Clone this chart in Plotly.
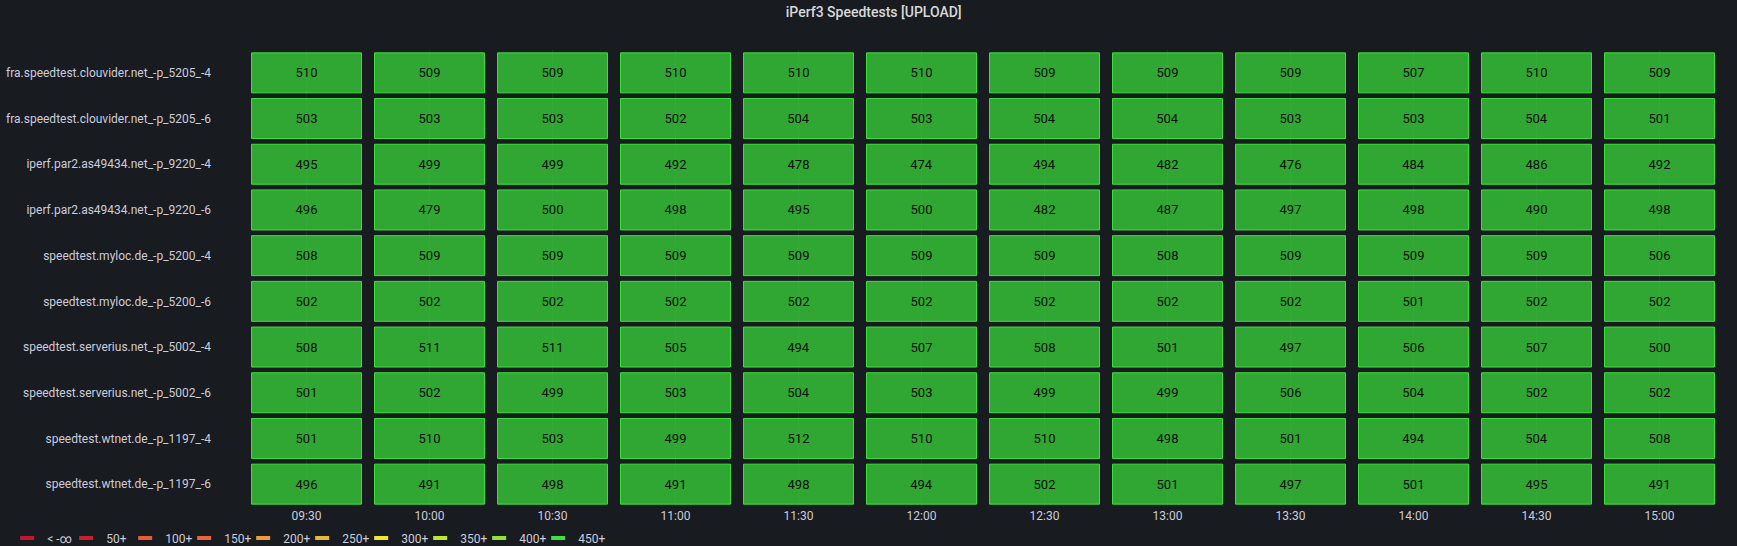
import plotly.graph_objects as go
import pandas as pd

# ---------------- data ----------------
times = ["09:30", "10:00", "10:30", "11:00", "11:30", "12:00",
         "12:30", "13:00", "13:30", "14:00", "14:30", "15:00"]

hosts = [
    "fra.speedtest.clouvider.net_-p_5205_-4",
    "fra.speedtest.clouvider.net_-p_5205_-6",
    "iperf.par2.as49434.net_-p_9220_-4",
    "iperf.par2.as49434.net_-p_9220_-6",
    "speedtest.myloc.de_-p_5200_-4",
    "speedtest.myloc.de_-p_5200_-6",
    "speedtest.serverius.net_-p_5002_-4",
    "speedtest.serverius.net_-p_5002_-6",
    "speedtest.wtnet.de_-p_1197_-4",
    "speedtest.wtnet.de_-p_1197_-6",
]

clouvider_4 = [510, 509, 509, 510, 510, 510, 509, 509, 509, 507, 510, 509]
clouvider_6 = [503, 503, 503, 502, 504, 503, 504, 504, 503, 503, 504, 501]
par2_4 = [495, 499, 499, 492, 478, 474, 494, 482, 476, 484, 486, 492]
par2_6 = [496, 479, 500, 498, 495, 500, 482, 487, 497, 498, 490, 498]
myloc_4 = [508, 509, 509, 509, 509, 509, 509, 508, 509, 509, 509, 506]
myloc_6 = [502, 502, 502, 502, 502, 502, 502, 502, 502, 501, 502, 502]
serverius_4 = [508, 511, 511, 505, 494, 507, 508, 501, 497, 506, 507, 500]
serverius_6 = [501, 502, 499, 503, 504, 503, 499, 499, 506, 504, 502, 502]
wtnet_4 = [501, 510, 503, 499, 512, 510, 510, 498, 501, 494, 504, 508]
wtnet_6 = [496, 491, 498, 491, 498, 494, 502, 501, 497, 501, 495, 491]

series = [clouvider_4, clouvider_6, par2_4, par2_6, myloc_4, myloc_6,
          serverius_4, serverius_6, wtnet_4, wtnet_6]

threshold_values = [float("-inf"), 50, 100, 150, 200, 250, 300, 350, 400, 450]
threshold_labels = ["< -∞", "50+", "100+", "150+", "200+", "250+",
                    "300+", "350+", "400+", "450+"]
threshold_colors = ["#C4162A", "#C81E30", "#EE5A36", "#F0633A", "#F2993A",
                    "#EAB839", "#F2E52C", "#BEE832", "#8EE632", "#3BE33B"]

# ---------------- style ----------------
BG = "#181b1f"
TEXT = "#ccccdc"
FONT = "Roboto, Inter, sans-serif"
SLOT_MS = 30 * 60 * 1000
CELL_FRACTION = 0.894
FILL_ALPHA = 0.7


def hex_to_rgba(h, a):
    h = h.lstrip("#")
    r, g, b = int(h[0:2], 16), int(h[2:4], 16), int(h[4:6], 16)
    return f"rgba({r},{g},{b},{a})"


def color_for(v):
    c = threshold_colors[0]
    for t, col in zip(threshold_values, threshold_colors):
        if v >= t:
            c = col
    return c


day = "2024-01-01 "
centers = pd.to_datetime([day + t for t in times])
half = pd.Timedelta(milliseconds=SLOT_MS * CELL_FRACTION / 2)

ys, bases, lens, fills, lines, texts = [], [], [], [], [], []
for host, vals in zip(hosts, series):
    for c, v in zip(centers, vals):
        col = color_for(v)
        ys.append(host)
        bases.append((c - half).strftime("%Y-%m-%d %H:%M:%S.%f"))
        lens.append(SLOT_MS * CELL_FRACTION)
        fills.append(hex_to_rgba(col, FILL_ALPHA))
        lines.append(col)
        texts.append(str(v))

fig = go.Figure()
fig.add_trace(go.Bar(
    orientation="h",
    y=ys,
    x=lens,
    base=bases,
    width=0.875,
    marker=dict(color=fills, line=dict(color=lines, width=1)),
    text=texts,
    textposition="inside",
    insidetextanchor="middle",
    textangle=0,
    textfont=dict(color="#0b0f0b", size=13, family=FONT),
    showlegend=False,
    hoverinfo="skip",
))

for lab, col in zip(threshold_labels, threshold_colors):
    fig.add_trace(go.Scatter(
        x=[None], y=[None], mode="markers", name=lab,
        marker=dict(symbol="line-ew", size=10, color=col,
                    line=dict(color=col, width=4)),
        showlegend=True,
    ))
# empty spacer entry so the last legend label is not clipped
fig.add_trace(go.Scatter(
    x=[None], y=[None], mode="markers", name=" ",
    marker=dict(symbol="line-ew", size=10, color="rgba(0,0,0,0)",
                line=dict(color="rgba(0,0,0,0)", width=0)),
    showlegend=True,
))

x0 = centers[0] - pd.Timedelta(milliseconds=SLOT_MS / 2)
x1 = centers[-1] + pd.Timedelta(milliseconds=SLOT_MS / 2)

fig.update_layout(
    width=1737, height=546,
    paper_bgcolor=BG, plot_bgcolor=BG,
    margin=dict(l=245, r=16, t=50, b=39, autoexpand=False),
    font=dict(family=FONT, color=TEXT, size=12),
    title=dict(text="iPerf3 Speedtests [UPLOAD]", x=0.503, xref="container",
               y=1 - 12 / 546, yref="container", yanchor="middle", xanchor="center",
               font=dict(size=14, color="#d8d9da", family=FONT, weight=500)),
    barmode="overlay",
    xaxis=dict(
        type="date",
        range=[x0, x1],
        tickvals=list(centers),
        ticktext=times,
        showgrid=True, gridcolor="rgba(204,204,220,0.08)", gridwidth=1,
        zeroline=False, showline=False, ticks="",
        tickfont=dict(size=12, color=TEXT),
        fixedrange=True,
    ),
    yaxis=dict(
        type="category",
        categoryorder="array", categoryarray=hosts,
        range=[len(hosts) - 0.5, -0.5],
        showgrid=False, zeroline=False, showline=False, ticks="",
        ticklabelstandoff=33,
        tickfont=dict(size=12, color=TEXT),
        fixedrange=True,
    ),
    legend=dict(
        orientation="h", x=(7 - 245) / 1477, xanchor="left",
        y=-31 / 457, yanchor="middle",
        font=dict(size=12, color=TEXT),
        bgcolor="rgba(0,0,0,0)",
        entrywidth=14, entrywidthmode="pixels",
        itemclick=False, itemdoubleclick=False,
        traceorder="normal",
    ),
)

fig.write_html(
    "out.html",
    config={"displayModeBar": False},
    post_script="document.body.style.margin='0';"
                "document.body.style.overflow='hidden';"
                "document.body.style.background='#181b1f';",
)
